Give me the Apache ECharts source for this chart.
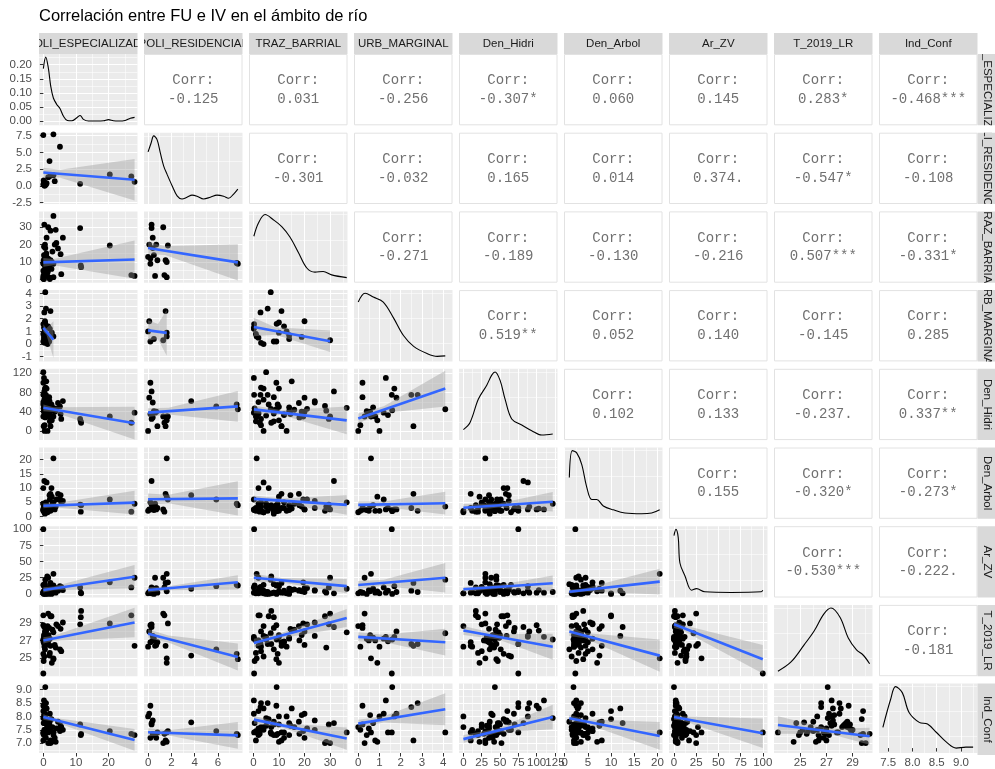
<!DOCTYPE html>
<html>
<head>
<meta charset="utf-8">
<title>ggpairs</title>
<script src="https://cdn.jsdelivr.net/npm/echarts@6.0.0/dist/echarts.min.js"></script>
<style>
html,body{margin:0;padding:0;background:#ffffff;}
#chart{width:995px;height:769px;}
</style>
</head>
<body>
<div id="chart"></div>
<script>
// ---------------- data ----------------
const TITLE = 'Correlación entre FU e IV en el ámbito de río';
const VARIABLES = ['POLI_ESPECIALIZADO','POLI_RESIDENCIAL','TRAZ_BARRIAL','URB_MARGINAL','Den_Hidri','Den_Arbol','Ar_ZV','T_2019_LR','Ind_Conf'];

const POLI_ESPECIALIZADO = [11.3,11.5,11.6,20.4,27.0,28.0,0.0,3.1,5.1,1.9, 0.0,0.3,0.5,1.0,0.2,0.8,1.5,3.1,2.2,2.6, 0.4,0.1,0.6,3.5,0.6,0.8,0.3,0.0,0.6,0.2, 1.3,0.4,1.8,0.9,1.1,0.2,2.0,0.5,1.5,0.0, 0.0,0.9,0.7,1.0,0.0,2.5,3.1,2.2,3.8,4.5, 5.3,5.5,1.2,0.3,1.6,2.8,0.5,4.0,1.4,0.1, 6.0,2.0];
const POLI_RESIDENCIAL = [0.3,null,null,1.7,1.4,0.6,7.6,7.7,5.85,3.7, 0.2,0.3,0.1,0.4,0.5,0.2,1.3,1.6,1.5,1.6, 0.0,0.8,0.4,0.7,null,null,null,null,null,null, null,null,null,null,null,null,null,null,null,null, null,null,null,null,null,null,null,null,null,null, null,null,null,null,null,null,null,null,null,null, null,null];
const TRAZ_BARRIAL = [29.5,8,7,19.5,2.5,2.0,9.5,9.0,null,null, 9,31.5,20,24,14,12,30,1.3,11,10, 13,11,18,20,6.8,5.6,2.8,0.3,9.1,0.2, 4,3,8,14,2,18.9,0.2,10,12,1, 5,15,3,4,2,6,36.5,28,28.5,17.8, 14.5,3,7,4,10,16,8,21,5,0.5, 24,1];
const URB_MARGINAL = [null,null,null,null,null,null,null,null,null,null, 0.2,null,1.8,null,0.4,null,0.3,0.6,2.6,0.9, 1.0,null,null,null,4.1,2.8,2.5,1.58,1.6,1.3, 0.0,0.1,0.2,0.7,0.5,0.56,1.2,1.7,1.4,0.8, null,null,null,null,null,null,null,null,null,null, null,null,null,null,null,null,null,null,null,null, null,null];
const Den_Hidri = [25,20,17,30,17,38,55,45,51,62, 100,82,69,59,41,35,30,30,10,22, 0,10,28,40,45,75,75,75,43,110, 0,12,70,49,35,40,38,88,33,30, 122,103,90,88,60,55,48,52,42,58, 35,25,45,65,50,44,36,46,32,47, 62,20];
const Den_Arbol = [4.2,1.7,4.0,6.0,1.7,4.5,4.5,4.0,6.0,7.5, 2.5,12.5,2.5,3.0,2.3,5.0,2.5,20.5,8.0,7.0, 2.0,3.0,4.0,2.5,3.5,2.0,3.0,2.3,1.9,2.5, 1.5,2.0,3.0,4.0,2.0,3.5,6.0,2.5,3.0,2.0, 4.5,2.8,3.5,12.0,10.0,10.0,5.0,2.0,3.5,8.0, 7.5,5.0,3.0,1.5,2.0,4.5,1.0,6.0,3.5,2.5, 5.5,3.0];
const Ar_ZV = [10,2,1,18,10,25,14,13,12,8, 2,1,3,5,0,2,25,31,17,4, 1,2,6,9,22,3,5,100,0,2, 1,3,2,8,6,4,10,12,5,2, 3,6,2,5,1,0,8,4,2,5, 7,11,27,14,3,7,15,9,0,13, 6,1];
const T_2019_LR = [28.8,29.6,30.3,28.9,29.8,26.4,25.5,24.9,26.0,25.3, 28.7,28.5,28.0,27.5,27.2,26.8,30.0,25.0,26.4,24.5, 26.3,26.8,27.0,26.5,27.8,26.6,26.6,23.3,27.1,27.4, 28.6,26.3,28.4,27.3,27.0,27.6,27.2,27.4,26.9,27.0, 27.1,28.1,28.0,27.5,29.8,29.7,27.9,29.7,26.2,28.6, 28.3,25.8,26.6,25.2,27.6,28.2,26.0,28.8,27.4,24.7, 29.0,25.6];
const Ind_Conf = [7.7,7.3,7.35,7.45,7.35,7.3,7.35,7.3,7.45,7.78, 8.4,7.75,8.1,7.85,7.3,7.2,7.0,7.4,7.1,7.05, 8.0,7.4,7.35,7.2,7.4,8.5,8.35,7.4,9.1,8.6, 7.6,7.5,7.7,7.75,7.55,8.05,8.1,8.0,7.4,7.1, 7.94,8.3,8.5,8.3,8.2,7.9,7.4,7.0,7.05,7.8, 7.65,7.6,7.6,7.5,7.7,7.6,7.8,7.55,7.65,7.75, 7.5,7.45];

// correlation labels (upper triangle), row by row
const CORR_ROW0 = ['-0.125','0.031','-0.256','-0.307*','0.060','0.145','0.283*','-0.468***'];
const CORR_ROW1 = ['-0.301','-0.032','0.165','0.014','0.374.','-0.547*','-0.108'];
const CORR_ROW2 = ['-0.271','-0.189','-0.130','-0.216','0.507***','-0.331*'];
const CORR_ROW3 = ['0.519**','0.052','0.140','-0.145','0.285'];
const CORR_ROW4 = ['0.102','0.133','-0.237.','0.337**'];
const CORR_ROW5 = ['0.155','-0.320*','-0.273*'];
const CORR_ROW6 = ['-0.530***','-0.222.'];
const CORR_ROW7 = ['-0.181'];

// fitted lm lines: [y at left end, y at right end, band half-width left, narrowest, right]
const FIT_ROW1 = [[2.0,0.9,0.7,0.6,3.1]];
const FIT_ROW2 = [[9.8,11.4,2.5,1.8,11],[18.1,9.8,3.5,2.5,10.4]];
const FIT_ROW3 = [[1.27,0.35,0.3,0.25,1.45],[1.08,0.88,0.8,0.6,1.8],[1.34,0.22,0.73,0.3,0.85]];
const FIT_ROW4 = [[48,16,7,5,34],[38,51,9,7,32],[44.7,22,8,5,29],[26,88,10,7,37]];
const FIT_ROW5 = [[3.8,4.9,0.9,0.7,4.2],[6.1,6.4,2,1.5,6],[6.2,4.1,1.2,0.8,3.5],[4.1,4.7,1.2,1.0,4.0],[3.1,5.2,1.3,0.7,3.4]];
const FIT_ROW6 = [[6.2,26.6,4,3,18],[6.2,18,4,3,11],[25,12,6,3.5,11],[13.8,25,6,5,22.6],[7.2,16.5,4,3,12],[3.5,19,3,2.5,20]];
const FIT_ROW7 = [[27.0,29.0,0.35,0.3,1.65],[27.75,25.15,0.5,0.4,1.5],[26.7,29.5,0.5,0.3,1.0],[27.4,26.8,0.5,0.4,1.5],[28.1,26.3,0.5,0.3,1.45],[28.0,25.3,0.5,0.3,1.8],[28.8,24.9,0.4,0.3,1.6]];
const FIT_ROW8 = [[7.98,7.12,0.1,0.07,0.41],[7.41,7.29,0.15,0.1,0.5],[7.88,7.17,0.15,0.08,0.42],[7.73,8.27,0.15,0.12,0.6],[7.15,7.98,0.15,0.08,0.46],[7.93,7.27,0.12,0.08,0.52],[7.98,7.37,0.1,0.08,0.55],[7.68,7.26,0.33,0.1,0.32]];

// density curves on the diagonal: [x, density] (first in real density units, the rest relative to their peak)
const DENS_POLI_ESPECIALIZADO = [[0,0.186],[0.74,0.227],[1.54,0.188],[2.28,0.123],[3.08,0.082],[4.12,0.059],[5.14,0.044],[6.15,0.018],[7.38,0.002],[8.74,0.001],[10.28,0.012],[11.3,0.02],[12.3,0.006],[13.85,0],[16.4,0],[18.5,0.001],[20,0.005],[21.5,0.001],[23.1,0],[25.1,0.002],[26.7,0.01],[28.0,0.013]];
const DENS_POLI_RESIDENCIAL = [[0,0.745],[0.26,0.886],[0.48,1],[0.77,0.94],[1.05,0.73],[1.34,0.52],[1.63,0.39],[2.06,0.21],[2.49,0.05],[2.91,0],[3.34,0.027],[3.77,0.06],[4.2,0.043],[4.76,0],[5.34,0.027],[5.91,0.06],[6.48,0.043],[6.9,0.01],[7.34,0.078],[7.7,0.156]];
const DENS_TRAZ_BARRIAL = [[0.2,0.656],[1.95,0.864],[4.6,1],[7.8,0.918],[11.1,0.809],[14.3,0.645],[17.6,0.4],[20.9,0.153],[24.1,0.087],[27.3,0.098],[30.6,0.044],[36.5,0]];
const DENS_URB_MARGINAL = [[0,0.86],[0.32,1],[0.71,0.94],[1.18,0.86],[1.66,0.61],[2.13,0.33],[2.61,0.158],[3.24,0.045],[3.72,0],[4.1,0.007]];
const DENS_Den_Hidri = [[0,0.085],[9.1,0.2],[20.5,0.57],[31.9,0.79],[38.7,0.95],[43.2,1],[50,0.87],[56.9,0.57],[66,0.255],[79.7,0.16],[93.3,0.069],[107,0],[122,0.016]];
const DENS_Den_Arbol = [[1.0,0.575],[1.64,1],[2.59,0.964],[3.67,0.783],[4.75,0.423],[5.83,0.227],[6.9,0.227],[8.33,0.124],[10.48,0.062],[13.0,0.011],[16.6,0],[18.77,0.011],[20.5,0.062]];
const DENS_Ar_ZV = [[0,0.9],[2.2,1],[4.8,0.87],[6.7,0.467],[12.3,0.264],[19.8,0.035],[25.4,0.06],[34.7,0.01],[64.6,0],[98.2,0.01],[100,0.035]];
const DENS_T_2019_LR = [[23.3,0],[24.3,0.146],[25.3,0.417],[26.05,0.632],[26.8,0.903],[27.35,1],[28.05,0.85],[28.67,0.525],[29.3,0.337],[29.8,0.256],[30.3,0.118]];
const DENS_Ind_Conf = [[7.39,0.339],[7.55,0.795],[7.65,1],[7.79,0.903],[7.93,0.58],[8.14,0.419],[8.31,0.392],[8.49,0.258],[8.7,0.097],[8.9,0],[9.1,0.016],[9.25,0.016]];

// tick labels
const X_TICKS = [[0,10,20],[0,2,4,6],[0,10,20,30],[0,1,2,3,4],[0,25,50,75,100,125],[0,5,10,15,20],[0,25,50,75,100],[25,27,29],[7.5,8.0,8.5,9.0]];
const Y_TICKS = [[0,0.05,0.10,0.15,0.20],[-2.5,0,2.5,5,7.5],[0,10,20,30],[-1,0,1,2,3,4],[0,40,80,120],[0,5,10,15,20],[0,25,50,75,100],[25,27,29],[7.0,7.5,8.0,8.5,9.0]];

// ---------------- layout / scales ----------------
const X_RANGE = [[-1.33,28.9],[-0.35,8.1],[-1.7,36.8],[-0.2,4.44],[-6,128.5],[-0.15,21.1],[-5.6,105.3],[23,30.52],[7.31,9.34]];
const Y_RANGE = [[-0.015,0.238],[-2.72,7.95],[-1.9,39.1],[-1.37,4.26],[-19,129],[-0.8,24.3],[-5.5,104.6],[23,30.97],[6.63,9.23]];
const X_STEP = [10,2,10,1,25,5,25,2,0.5];
const Y_STEP = [0.05,2.5,10,1,40,5,25,2,0.5];
const X_DEC = [0,0,0,0,0,0,0,0,1];
const Y_DEC = [2,1,0,0,0,0,0,0,1];
const FROM_MIN = [false,false,false,false,false,false,false,true,false];
const REL_RANGE = [-0.08,1.05];

const COLS = [POLI_ESPECIALIZADO,POLI_RESIDENCIAL,TRAZ_BARRIAL,URB_MARGINAL,Den_Hidri,Den_Arbol,Ar_ZV,T_2019_LR,Ind_Conf];
const CORRS = [CORR_ROW0,CORR_ROW1,CORR_ROW2,CORR_ROW3,CORR_ROW4,CORR_ROW5,CORR_ROW6,CORR_ROW7];
const FITS = [null,FIT_ROW1,FIT_ROW2,FIT_ROW3,FIT_ROW4,FIT_ROW5,FIT_ROW6,FIT_ROW7,FIT_ROW8];
const DENS = [DENS_POLI_ESPECIALIZADO,DENS_POLI_RESIDENCIAL,DENS_TRAZ_BARRIAL,DENS_URB_MARGINAL,DENS_Den_Hidri,DENS_Den_Arbol,DENS_Ar_ZV,DENS_T_2019_LR,DENS_Ind_Conf];

const PX0 = 39, PITCH_X = 105, PW = 98.5;
const PY0 = 54, PITCH_Y = 78.7, PH = 71.3;
const colX = j => PX0 + PITCH_X * j;
const rowY = i => PY0 + PITCH_Y * i;
const FONT = 'Liberation Sans';
const GRID_BG = '#EBEBEB';

function baseAxis(range, step, fromMin) {
  const a = {
    type: 'value', min: range[0], max: range[1],
    axisLine: { show: false },
    splitLine: { show: true, showMinLine: false, showMaxLine: false, lineStyle: { color: '#FFFFFF', width: 1.1 } },
    minorTick: { show: false, splitNumber: 2 },
    minorSplitLine: { show: true, lineStyle: { color: '#FFFFFF', width: 0.55 } }
  };
  if (fromMin) { a.interval = step; }
  else { a.minInterval = step; a.maxInterval = step; a.splitNumber = 30; }
  return a;
}
// the axis extents are added as (empty, hidden) end labels so that ECharts' min/max overlap rule
// never hides a real label such as 100 next to 125
function labelled(a, show, ticks, dec, isX) {
  const ends = [a.min].concat(ticks, [a.max]);
  a.axisTick = { show: show, length: 3.5, customValues: ends, lineStyle: { color: '#333333', width: 1 } };
  a.axisLabel = {
    show: show, customValues: ends, showMinLabel: false, showMaxLabel: false,
    hideOverlap: false,
    margin: isX ? 4 : 7, color: '#4D4D4D', fontFamily: FONT, fontSize: 11.5,
    formatter: v => ticks.some(t => Math.abs(t - v) < 1e-7) ? (+v).toFixed(dec) : ''
  };
  return a;
}

const grid = [], xAxis = [], yAxis = [], series = [], elements = [];
let gi = 0;

for (let i = 0; i < 9; i++) {
  for (let j = 0; j <= i; j++) {
    grid.push({ left: colX(j), top: rowY(i), width: PW, height: PH, show: true, backgroundColor: GRID_BG, borderWidth: 0 });
    const xa = labelled(baseAxis(X_RANGE[j], X_STEP[j], FROM_MIN[j]), i === 8, X_TICKS[j], X_DEC[j], true);
    xa.gridIndex = gi; xa.position = 'bottom';
    xAxis.push(xa);
    let ya;
    if (i === j && i > 0) {
      ya = labelled(baseAxis(REL_RANGE, 0.4, false), false, [], 0, false);
    } else {
      ya = labelled(baseAxis(Y_RANGE[i], Y_STEP[i], FROM_MIN[i]), j === 0, Y_TICKS[i], Y_DEC[i], false);
    }
    ya.gridIndex = gi; ya.position = 'left';
    yAxis.push(ya);

    if (i === j) {
      series.push({ type: 'line', xAxisIndex: gi, yAxisIndex: gi, data: DENS[i], smooth: 0.35, symbol: 'none',
        lineStyle: { color: '#000000', width: 1.1 }, silent: true, z: 3 });
    } else {
      const xs = COLS[j], ys = COLS[i];
      const pts = [];
      for (let k = 0; k < xs.length; k++) if (xs[k] != null && ys[k] != null) pts.push([xs[k], ys[k]]);
      series.push({ type: 'scatter', xAxisIndex: gi, yAxisIndex: gi, data: pts, symbolSize: 5.8,
        itemStyle: { color: '#000000', opacity: 1 }, silent: true, z: 2 });
      const f = FITS[i][j];
      let x0 = Infinity, x1 = -Infinity, sx = 0;
      pts.forEach(p => { x0 = Math.min(x0, p[0]); x1 = Math.max(x1, p[0]); sx += p[0]; });
      const xm = sx / pts.length;
      const ym = f[0] + (f[1] - f[0]) * (xm - x0) / (x1 - x0);
      const poly = [[x0, f[0] + f[2]], [xm, ym + f[3]], [x1, f[1] + f[4]], [x1, f[1] - f[4]], [xm, ym - f[3]], [x0, f[0] - f[2]]];
      series.push({ type: 'custom', xAxisIndex: gi, yAxisIndex: gi, coordinateSystem: 'cartesian2d', clip: true, silent: true, z: 3,
        data: [[x0, f[0]]], encode: { x: 0, y: 1 },
        renderItem: ((pp) => (params, api) => ({ type: 'polygon', shape: { points: pp.map(p => api.coord(p)) },
          style: { fill: 'rgba(153,153,153,0.4)' } }))(poly) });
      series.push({ type: 'line', xAxisIndex: gi, yAxisIndex: gi, data: [[x0, f[0]], [x1, f[1]]], symbol: 'none',
        lineStyle: { color: '#3366FF', width: 2.6 }, silent: true, z: 4 });
    }
    gi++;
  }
}

// upper triangle: correlation boxes
for (let i = 0; i < 8; i++) {
  for (let j = i + 1; j < 9; j++) {
    const x = colX(j), y = rowY(i);
    elements.push({ type: 'rect', shape: { x: x + 0.5, y: y + 0.5, width: PW - 1, height: PH - 1 },
      style: { fill: '#FFFFFF', stroke: '#E2E2E2', lineWidth: 1 }, silent: true });
    const cx = x + PW / 2, cy = y + PH / 2;
    [['Corr:', cy - 9], [CORRS[i][j - i - 1], cy + 9.5]].forEach(([t, yy]) => {
      elements.push({ type: 'text', x: cx, y: yy, silent: true,
        style: { text: t, fill: '#707070', fontSize: 14, fontFamily: 'Liberation Mono',
          align: 'center', verticalAlign: 'middle', textAlign: 'center', textVerticalAlign: 'middle' } });
    });
  }
}
// title
elements.push({ type: 'text', left: 39, top: 8, silent: true,
  style: { text: TITLE, fill: '#000000', fontSize: 16.5, fontFamily: FONT } });

// strips (clipped text)
const stripEls = [];
for (let j = 0; j < 9; j++) {
  const x = colX(j), y = 33, h = 21;
  stripEls.push({ type: 'rect', shape: { x: x, y: y, width: PW, height: h }, style: { fill: '#D9D9D9' } });
  stripEls.push({ type: 'group', clipPath: { type: 'rect', shape: { x: x, y: y, width: PW, height: h } },
    children: [{ type: 'text', x: x + PW / 2, y: y + h / 2,
      style: { text: VARIABLES[j], fill: '#1A1A1A', fontSize: 11.5, fontFamily: FONT, align: 'center', verticalAlign: 'middle' } }] });
}
for (let i = 0; i < 9; i++) {
  const x = colX(8) + PW, y = rowY(i), w = 21;
  stripEls.push({ type: 'rect', shape: { x: x, y: y, width: w, height: PH }, style: { fill: '#D9D9D9' } });
  stripEls.push({ type: 'group', clipPath: { type: 'rect', shape: { x: x, y: y, width: w, height: PH } },
    children: [{ type: 'text', x: x + 10, y: y + PH / 2, rotation: -Math.PI / 2,
      style: { text: VARIABLES[i], fill: '#1A1A1A', fontSize: 11.5, fontFamily: FONT, align: 'center', verticalAlign: 'middle' } }] });
}
series.push({ type: 'custom', coordinateSystem: 'none', silent: true, z: 10, data: [0],
  renderItem: () => ({ type: 'group', children: stripEls }) });

const chart = echarts.init(document.getElementById('chart'), null, { renderer: 'canvas' });
chart.setOption({
  animation: false,
  backgroundColor: '#FFFFFF',
  grid: grid, xAxis: xAxis, yAxis: yAxis, series: series,
  graphic: { elements: elements }
});
</script>
</body>
</html>
